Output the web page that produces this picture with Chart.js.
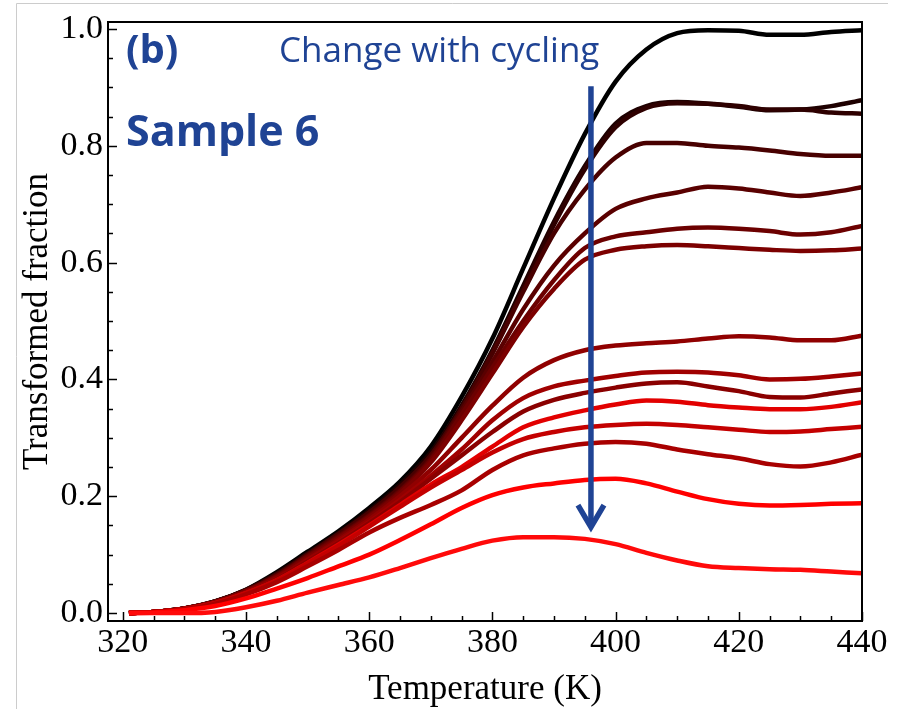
<!DOCTYPE html>
<html>
<head>
<meta charset="utf-8">
<script src="https://cdn.jsdelivr.net/npm/chart.js@4.4.0/dist/chart.umd.min.js"></script>
<style>
  html, body { margin: 0; padding: 0; background: #fff; }
</style>
</head>
<body>
<canvas id="myChart" width="906" height="709"></canvas>
<script>
// temperature grid (K)
var temperature = [321, 325, 330, 335, 340, 345, 350, 355, 360, 365, 370, 375, 380,
                   385, 390, 395, 400, 405, 410, 415, 420, 425, 430, 435, 440];

// transformed fraction, first cycle (black) to last cycle (red)
var cycle01 = [0, 0.002, 0.008, 0.02, 0.04, 0.07, 0.105, 0.14, 0.18, 0.225, 0.285, 0.37, 0.47,
               0.59, 0.71, 0.82, 0.91, 0.965, 0.993, 0.998, 0.997, 0.99, 0.99, 0.995, 0.998];
var cycle02 = [0, 0.002, 0.008, 0.02, 0.04, 0.068, 0.102, 0.137, 0.175, 0.22, 0.275, 0.355, 0.45,
               0.56, 0.67, 0.765, 0.838, 0.868, 0.875, 0.872, 0.867, 0.861, 0.862, 0.868, 0.878];
var cycle03 = [0, 0.002, 0.008, 0.02, 0.039, 0.066, 0.1, 0.135, 0.172, 0.216, 0.27, 0.35, 0.445,
               0.555, 0.665, 0.76, 0.832, 0.865, 0.873, 0.872, 0.868, 0.862, 0.862, 0.857, 0.855];
var cycle04 = [0, 0.002, 0.008, 0.02, 0.039, 0.066, 0.1, 0.135, 0.172, 0.215, 0.27, 0.35, 0.445,
               0.55, 0.65, 0.725, 0.78, 0.805, 0.805, 0.8, 0.797, 0.792, 0.786, 0.783, 0.783];
var cycle05 = [0, 0.002, 0.008, 0.019, 0.038, 0.064, 0.098, 0.132, 0.168, 0.21, 0.265, 0.345, 0.43,
               0.52, 0.595, 0.65, 0.692, 0.71, 0.72, 0.73, 0.727, 0.72, 0.714, 0.72, 0.729];
var cycle06 = [0, 0.002, 0.008, 0.019, 0.038, 0.063, 0.097, 0.13, 0.166, 0.208, 0.262, 0.34, 0.42,
               0.5, 0.57, 0.625, 0.645, 0.652, 0.658, 0.66, 0.658, 0.654, 0.648, 0.652, 0.663];
var cycle07 = [0, 0.002, 0.008, 0.019, 0.037, 0.062, 0.095, 0.128, 0.164, 0.205, 0.258, 0.33, 0.41,
               0.49, 0.555, 0.605, 0.622, 0.628, 0.63, 0.628, 0.625, 0.622, 0.62, 0.621, 0.624];
var cycle08 = [0, 0.002, 0.007, 0.018, 0.036, 0.06, 0.092, 0.125, 0.16, 0.2, 0.245, 0.3, 0.355,
               0.403, 0.433, 0.45, 0.458, 0.462, 0.465, 0.47, 0.474, 0.472, 0.467, 0.467, 0.475];
var cycle09 = [0, 0.002, 0.007, 0.018, 0.035, 0.058, 0.09, 0.122, 0.156, 0.194, 0.235, 0.28, 0.33,
               0.368, 0.388, 0.398, 0.406, 0.412, 0.413, 0.412, 0.407, 0.4, 0.401, 0.405, 0.41];
var cycle10 = [0, 0.002, 0.007, 0.018, 0.035, 0.058, 0.089, 0.12, 0.154, 0.19, 0.23, 0.27, 0.31,
               0.345, 0.365, 0.377, 0.386, 0.393, 0.395, 0.388, 0.38, 0.37, 0.369, 0.376, 0.383];
var cycle11 = [0, 0.002, 0.007, 0.017, 0.034, 0.056, 0.086, 0.117, 0.15, 0.185, 0.22, 0.25, 0.285,
               0.318, 0.335, 0.347, 0.357, 0.364, 0.362, 0.356, 0.352, 0.349, 0.349, 0.353, 0.361];
var cycle12 = [0, 0.002, 0.007, 0.017, 0.034, 0.056, 0.085, 0.115, 0.148, 0.182, 0.215, 0.245, 0.275,
               0.298, 0.31, 0.318, 0.322, 0.324, 0.322, 0.318, 0.314, 0.31, 0.311, 0.315, 0.319];
var cycle13 = [0, 0.002, 0.006, 0.016, 0.032, 0.053, 0.08, 0.108, 0.138, 0.163, 0.185, 0.21, 0.245,
               0.27, 0.282, 0.29, 0.293, 0.29, 0.28, 0.272, 0.265, 0.255, 0.251, 0.258, 0.271];
var cycle14 = [0, 0.001, 0.005, 0.012, 0.025, 0.042, 0.06, 0.08, 0.1, 0.125, 0.152, 0.18, 0.202,
               0.215, 0.222, 0.228, 0.23, 0.222, 0.208, 0.195, 0.187, 0.184, 0.185, 0.187, 0.188];
var cycle15 = [0, 0, 0, 0.002, 0.01, 0.021, 0.035, 0.048, 0.061, 0.077, 0.094, 0.11, 0.124,
               0.13, 0.13, 0.127, 0.118, 0.103, 0.09, 0.08, 0.077, 0.075, 0.074, 0.071, 0.068];

var cycles = [cycle01, cycle02, cycle03, cycle04, cycle05, cycle06, cycle07, cycle08,
              cycle09, cycle10, cycle11, cycle12, cycle13, cycle14, cycle15];

var xTicks = [320, 340, 360, 380, 400, 420, 440];
var yTicks = [0, 0.2, 0.4, 0.6, 0.8, 1.0];

// styles
var lineColors = ['#000000', '#1e0000', '#2e0000', '#480000', '#5a0000', '#6c0000', '#7c0000',
                  '#900000', '#a00000', '#8a0000', '#e20000', '#c40000', '#a80000', '#ff0000', '#ff0a0a'];
var blue = '#1f4394';
var serif = '"Liberation Serif", "Times New Roman", serif';

var datasets = cycles.map((vals, i) => ({
  label: 'cycle ' + (i + 1),
  data: vals.map((v, j) => ({ x: temperature[j], y: v })),
  borderColor: lineColors[i],
  borderWidth: 4.5,
  pointRadius: 0,
  fill: false,
  cubicInterpolationMode: 'monotone',
  order: cycles.length - i
}));

const frameAndNotes = {
  id: 'frameAndNotes',
  afterDraw(chart) {
    const ctx = chart.ctx, sx = chart.scales.x, sy = chart.scales.y, a = chart.chartArea;
    ctx.save();
    // outer light frame of the figure
    ctx.strokeStyle = '#cccccc';
    ctx.lineWidth = 1;
    ctx.beginPath();
    ctx.moveTo(16.5, 709); ctx.lineTo(16.5, 3.5); ctx.lineTo(888, 3.5);
    ctx.stroke();

    // plot frame
    ctx.strokeStyle = '#000';
    ctx.lineWidth = 2;
    ctx.strokeRect(a.left, a.top, a.right - a.left, a.bottom - a.top);

    // inward ticks
    ctx.lineWidth = 1.5;
    for (let t = 320; t <= 440; t += 5) {
      const px = Math.round(sx.getPixelForValue(t)) + 0.5;
      const len = xTicks.includes(t) ? 9 : 5;
      ctx.beginPath(); ctx.moveTo(px, a.bottom); ctx.lineTo(px, a.bottom - len); ctx.stroke();
    }
    for (let i = 0; i <= 20; i++) {
      const py = Math.round(sy.getPixelForValue(i * 0.05)) + 0.5;
      const len = i % 4 === 0 ? 9 : 5;
      ctx.beginPath(); ctx.moveTo(a.left, py); ctx.lineTo(a.left + len, py); ctx.stroke();
    }

    // arrow "change with cycling"
    const ax = sx.getPixelForValue(396);
    const top = sy.getPixelForValue(0.902);
    const tip = sy.getPixelForValue(0.142);
    ctx.strokeStyle = blue;
    ctx.lineWidth = 5.5;
    ctx.beginPath(); ctx.moveTo(ax, top); ctx.lineTo(ax, tip - 3); ctx.stroke();
    ctx.lineJoin = 'miter';
    ctx.beginPath();
    ctx.moveTo(ax - 13, tip - 25); ctx.lineTo(ax, tip - 3); ctx.lineTo(ax + 13, tip - 25);
    ctx.stroke();

    // annotations
    ctx.fillStyle = blue;
    ctx.textBaseline = 'alphabetic';
    ctx.textAlign = 'left';
    ctx.font = 'bold 40px "Open Sans"';
    ctx.fillText('(b)', 126, 63);
    ctx.font = 'bold 43px "Open Sans"';
    ctx.fillText('Sample 6', 126, 146);
    ctx.font = '35px "Open Sans"';
    ctx.fillText('Change with cycling', 279, 62);
    ctx.restore();
  }
};

var ctx = document.getElementById('myChart').getContext('2d');
var chart = new Chart(ctx, {
  type: 'line',
  data: { datasets: datasets },
  options: {
    responsive: false,
    animation: false,
    devicePixelRatio: 1,
    layout: { padding: { left: 0, right: 44, top: 16, bottom: 0 } },
    plugins: { legend: { display: false }, tooltip: { enabled: false } },
    scales: {
      x: {
        type: 'linear',
        min: 317.6,
        max: 440,
        grid: { display: false, drawTicks: false },
        border: { display: false },
        afterBuildTicks: s => { s.ticks = xTicks.map(v => ({ value: v })); },
        afterFit: s => { s.height = 88; },
        ticks: {
          padding: 2,
          color: '#000',
          maxRotation: 0,
          font: { family: serif, size: 34 },
          callback: v => String(v)
        },
        title: {
          display: true,
          text: 'Temperature (K)',
          color: '#000',
          padding: { top: 0, bottom: 0 },
          font: { family: serif, size: 35, lineHeight: 1.1 }
        }
      },
      y: {
        type: 'linear',
        min: -0.0136,
        max: 1.012,
        grid: { display: false, drawTicks: false },
        border: { display: false },
        afterBuildTicks: s => { s.ticks = yTicks.map(v => ({ value: v })); },
        afterFit: s => { s.width = 108; },
        ticks: {
          padding: 5,
          color: '#000',
          font: { family: serif, size: 34, lineHeight: 1 },
          callback: v => v.toFixed(1)
        },
        title: {
          display: true,
          text: 'Transformed fraction',
          color: '#000',
          padding: { top: 19, bottom: 0 },
          font: { family: serif, size: 35, lineHeight: 1.1 }
        }
      }
    }
  },
  plugins: [frameAndNotes]
});
</script>
</body>
</html>
